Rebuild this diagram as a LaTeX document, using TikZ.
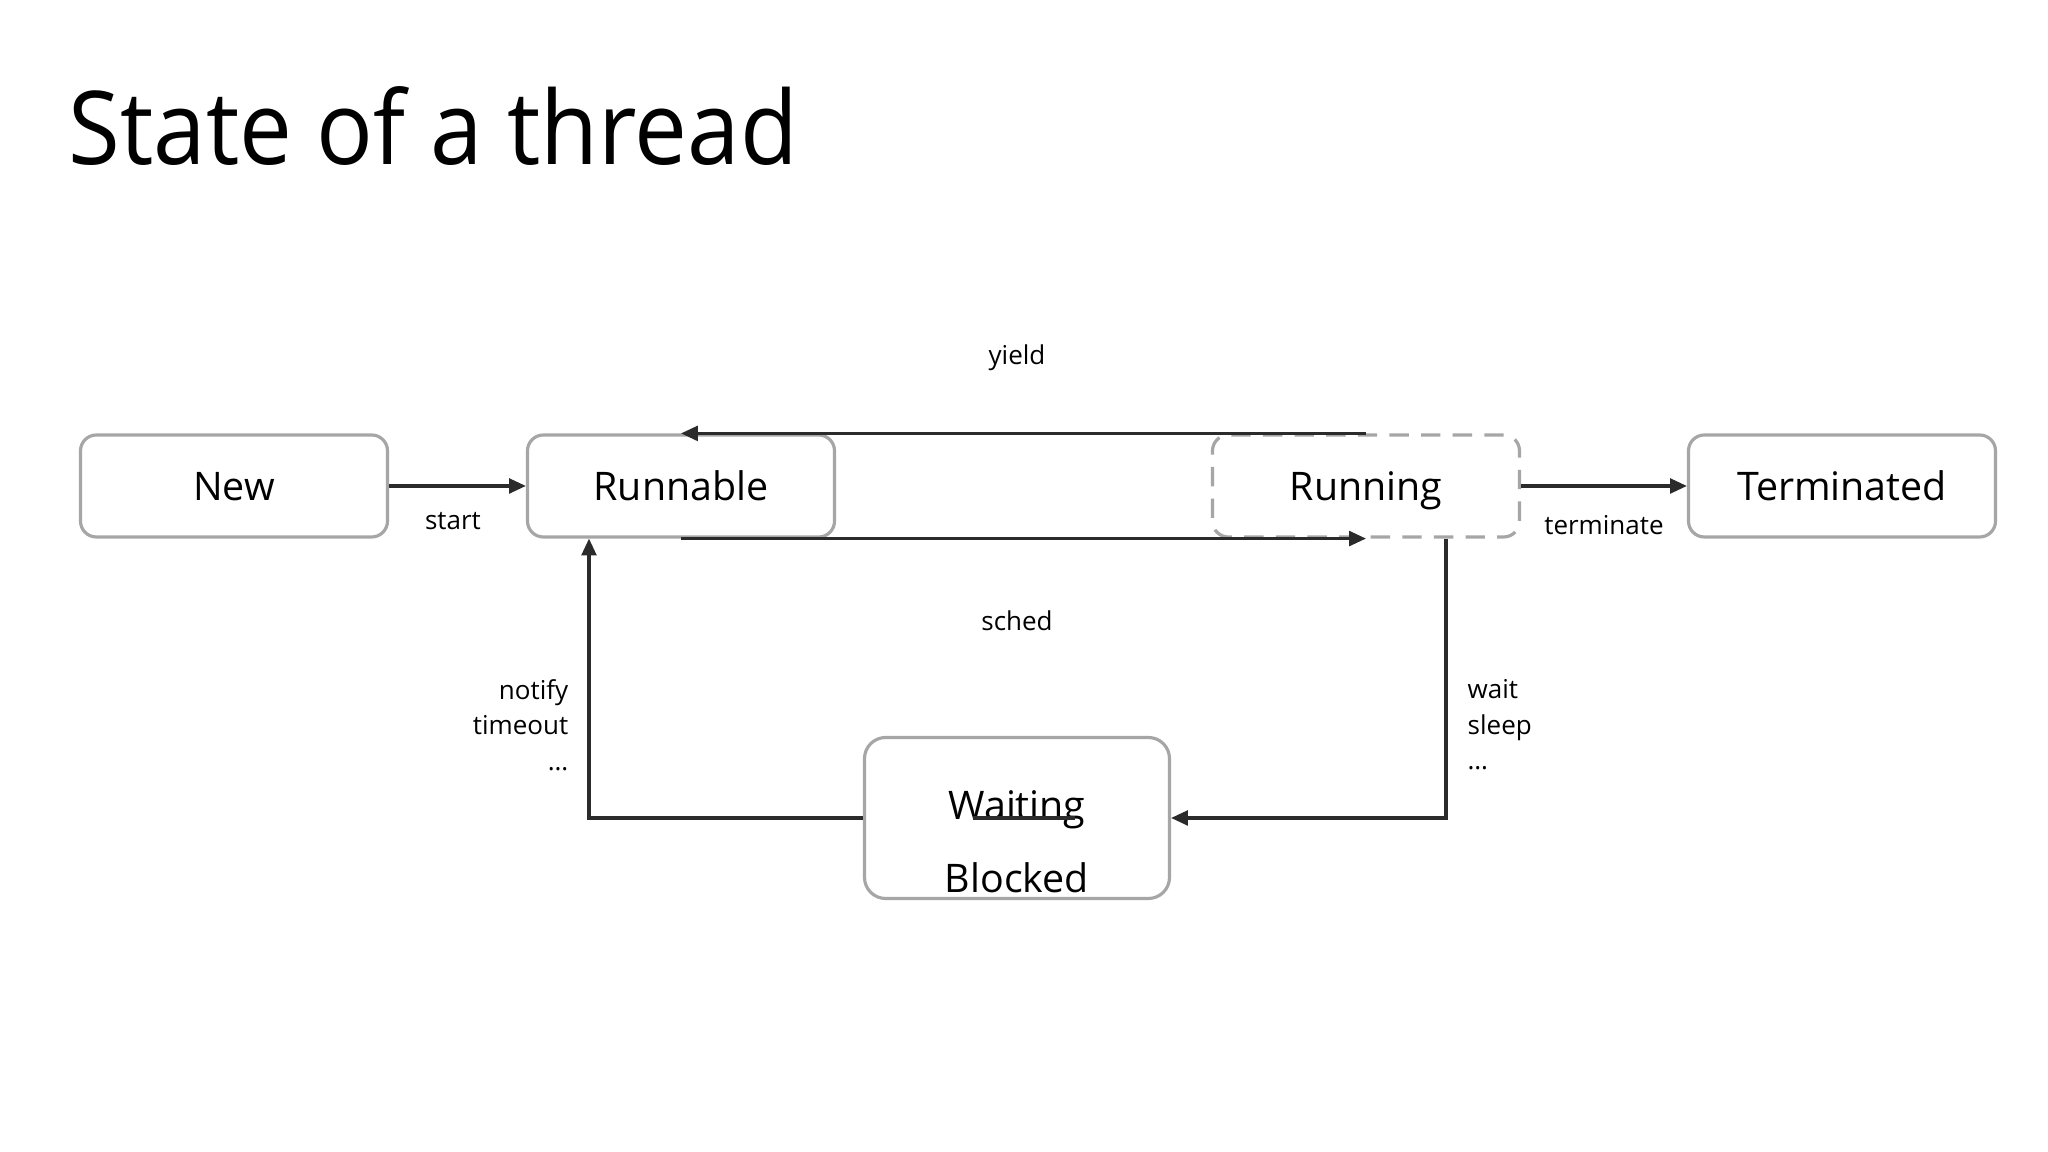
\documentclass[tikz,border=0pt]{standalone}
\usepackage{fontspec}
\setmainfont{Open Sans}
\newfontfamily\titlefont[FakeStretch=0.925]{Open Sans}
\usepackage{xcolor}
\usetikzlibrary{arrows.meta,calc,positioning}
\definecolor{boxgray}{HTML}{A6A6A6}
\definecolor{flowdark}{HTML}{2B2B2B}

\begin{document}
\begin{tikzpicture}[font=\fontsize{7.4}{10.1}\selectfont,
    state/.style={draw=boxgray,line width=0.9pt,rounded corners=4.5pt,fill=white,
      minimum width=30.7mm,minimum height=10.2mm,text depth=0pt,
      font=\fontsize{11.2}{13}\selectfont},
    active/.style={state,dash pattern=on 5.5pt off 3.5pt},
    flow/.style={draw=flowdark,line width=0.9pt,
      -{Triangle[length=4.8pt,width=4.2pt]}},
    big/.style={font=\fontsize{11.2}{13}\selectfont,inner sep=0pt}]
    \fill[white] (0,0) rectangle (20.48,11.52);

    \node[anchor=base west,inner sep=0pt,font=\titlefont\fontsize{29}{34}\selectfont]
      (title) at (0.68,9.87) {State of a thread};

    % states
    \node[state] (new) at (2.34,6.66) {New};
    \node[state] (runnable) at (6.81,6.66) {Runnable};
    \node[active] (running) at (13.66,6.66) {Running};
    \node[state] (terminated) at (18.42,6.66) {Terminated};
    \node[state,minimum width=30.5mm,minimum height=16.1mm,rounded corners=6pt]
      (blocked) at (10.17,3.34) {};
    \node[big,anchor=base] (waittxt) at (10.17,3.32) {Waiting};
    \node[big,anchor=base] (blocktxt) at (10.17,2.59) {Blocked};

    % transitions
    \draw[flow] (new) -- (runnable);
    \draw[flow] (running.north) -- (runnable.north);
    \draw[flow] (runnable.south) -- (running.south);
    \draw[flow] (running) -- (terminated);
    \draw[flow] ([xshift=8mm]running.south) |- (blocked.east);
    \draw[flow] (blocked.west) -| ([xshift=-9.2mm]runnable.south);
    \draw[draw=flowdark,line width=0.9pt] ($(blocked.center)+(-0.44,0)$) -- ++(1.02,0);

    \node[anchor=base] (start) at (4.53,6.22) {start};
    \node[anchor=base] (term) at (16.04,6.17) {terminate};
    \node[anchor=base] (yield) at (10.17,7.87) {yield};
    \node[anchor=base] (sched) at (10.17,5.21) {sched};
    \node[anchor=east,align=right,inner sep=0pt] (wake) at (5.69,4.27)
      {notify\\timeout\\…};
    \node[anchor=west,align=left,inner sep=0pt] (sleep) at (14.67,4.27)
      {wait\\sleep\\…};
  \end{tikzpicture}
\end{document}
